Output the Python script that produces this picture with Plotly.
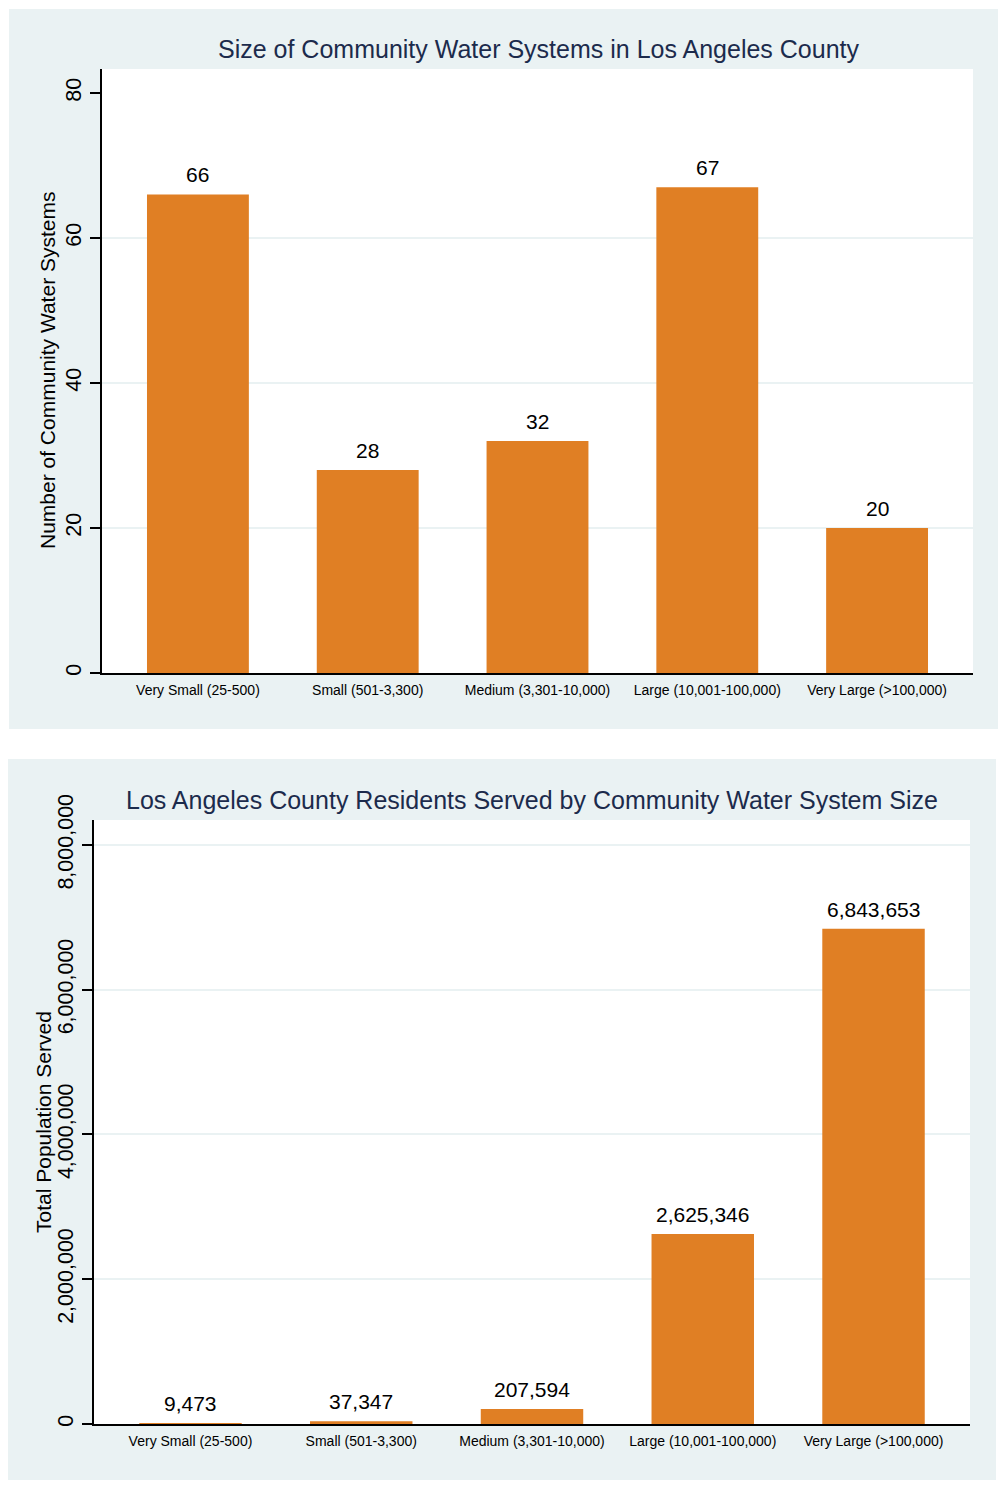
import plotly.graph_objects as go

W, H = 1006, 1486
PAGE_OFFSET = 8  # browser body margin around the figure div

categories = ["Very Small (25-500)", "Small (501-3,300)", "Medium (3,301-10,000)",
              "Large (10,001-100,000)", "Very Large (>100,000)"]
systems_count = [66, 28, 32, 67, 20]
population_served = [9473, 37347, 207594, 2625346, 6843653]

top_title = "Size of Community Water Systems in Los Angeles County"
bottom_title = "Los Angeles County Residents Served by Community Water System Size"
top_ytitle = "Number of Community Water Systems"
bottom_ytitle = "Total Population Served"
top_yticks = [0, 20, 40, 60, 80]
top_grid = [20, 40, 60]
bottom_yticks = [0, 2000000, 4000000, 6000000, 8000000]

BG = "#EAF2F3"
BAR = "#E07F24"
TITLE_C = "#1C2B4C"
FONT = "Liberation Sans, Arial, sans-serif"


def px(x):
    return (x - PAGE_OFFSET) / W


def py(y):
    return 1 - (y - PAGE_OFFSET) / H


# layout geometry (window pixels)
top_panel = (9, 9, 999, 729)
bot_panel = (6, 759, 996, 1480)
top_plot = (102, 69, 973, 673)
bot_plot = (94, 820, 970, 1424)

fig = go.Figure()

fig.add_trace(go.Bar(x=categories, y=systems_count, marker=dict(color=BAR, line=dict(width=0)),
                     width=0.6, xaxis="x", yaxis="y", showlegend=False, hoverinfo="x+y"))
fig.add_trace(go.Scatter(x=[], y=[], xaxis="x", yaxis="y3", showlegend=False, hoverinfo="skip"))
fig.add_trace(go.Bar(x=categories, y=population_served, marker=dict(color=BAR, line=dict(width=0)),
                     width=0.6, xaxis="x2", yaxis="y2", showlegend=False, hoverinfo="x+y"))

shapes = []
for (x0, y0, x1, y1), col in [(top_panel, BG), (bot_panel, BG), (top_plot, "white"), (bot_plot, "white")]:
    shapes.append(dict(type="rect", xref="paper", yref="paper", x0=px(x0), x1=px(x1),
                       y0=py(y1), y1=py(y0), fillcolor=col, line=dict(width=0), layer="below"))

annotations = [
    dict(text=top_title, xref="paper", yref="paper", x=px(539), y=py(49), showarrow=False,
         xanchor="center", yanchor="middle", font=dict(size=25, color=TITLE_C, family=FONT)),
    dict(text=bottom_title, xref="paper", yref="paper", x=px(532), y=py(800), showarrow=False,
         xanchor="center", yanchor="middle", font=dict(size=25, color=TITLE_C, family=FONT)),
    dict(text=top_ytitle, xref="paper", yref="paper", x=px(48), y=py(371), showarrow=False,
         textangle=-90, xanchor="center", yanchor="middle",
         font=dict(size=21, color="black", family=FONT)),
    dict(text=bottom_ytitle, xref="paper", yref="paper", x=px(43), y=py(1122), showarrow=False,
         textangle=-90, xanchor="center", yanchor="middle",
         font=dict(size=21, color="black", family=FONT)),
]
for c, v in zip(categories, systems_count):
    annotations.append(dict(text=f"{v:,}", x=c, y=v, xref="x", yref="y", showarrow=False,
                            yanchor="bottom", yshift=6, font=dict(size=21, color="black", family=FONT)))
for c, v in zip(categories, population_served):
    annotations.append(dict(text=f"{v:,}", x=c, y=v, xref="x2", yref="y2", showarrow=False,
                            yanchor="bottom", yshift=6, font=dict(size=21, color="black", family=FONT)))

xcommon = dict(type="category", range=[-0.565, 4.565], showgrid=False, zeroline=False,
               showline=True, linecolor="black", linewidth=1.5, ticks="",
               tickfont=dict(size=14, color="black", family=FONT),
               ticklabelstandoff=3, fixedrange=True, automargin=False)
ycommon = dict(showline=True, linecolor="black", linewidth=1.5, ticks="outside", ticklen=10,
               tickwidth=1.5, tickcolor="black", tickangle=-90, zeroline=False, automargin=False,
               ticklabelstandoff=1, tickfont=dict(size=21.5, color="black", family=FONT))

fig.update_layout(
    width=W, height=H, margin=dict(l=0, r=0, t=0, b=0, pad=0, autoexpand=False),
    paper_bgcolor="white", plot_bgcolor="rgba(0,0,0,0)",
    font=dict(family=FONT, color="black"),
    showlegend=False,
    xaxis=dict(domain=[px(top_plot[0]), px(top_plot[2])], anchor="y", **xcommon),
    yaxis=dict(domain=[py(top_plot[3]), py(top_plot[1])], anchor="x", range=[0, 83.3],
               tickvals=top_yticks, showgrid=False, **ycommon),
    yaxis3=dict(overlaying="y", anchor="x", range=[0, 83.3], tickvals=top_grid, showgrid=True,
                gridcolor=BG, gridwidth=1.5, showticklabels=False, ticks="", showline=False,
                zeroline=False, automargin=False),
    xaxis2=dict(domain=[px(bot_plot[0]), px(bot_plot[2])], anchor="y2", **xcommon),
    yaxis2=dict(domain=[py(bot_plot[3]), py(bot_plot[1])], anchor="x2", range=[0, 8345000],
                tickvals=bottom_yticks, tickformat=",d", showgrid=True, gridcolor=BG, gridwidth=1.5,
                **ycommon),
    shapes=shapes,
    annotations=annotations,
)

fig.write_html("out.html")
